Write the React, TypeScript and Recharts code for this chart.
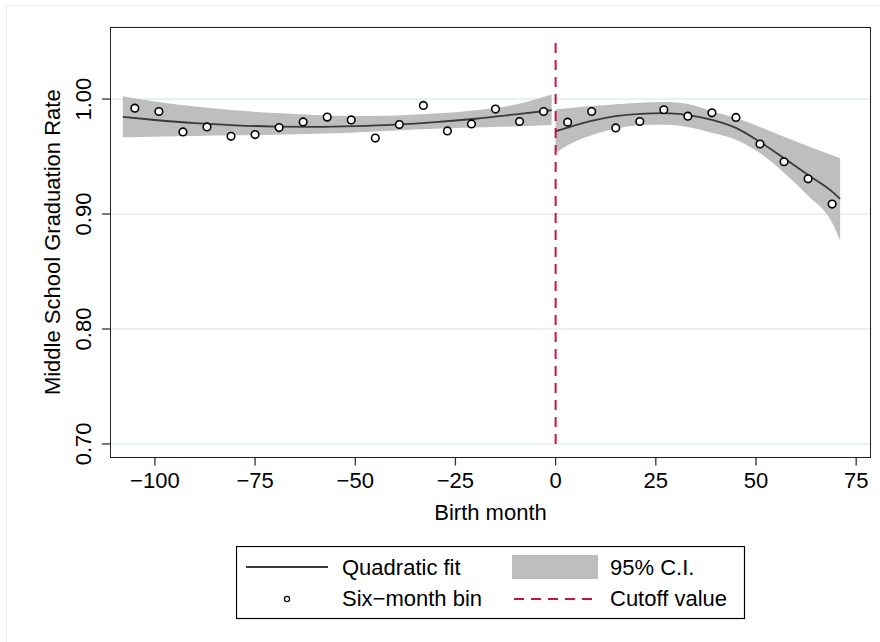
import { ComposedChart, Area, Line, Scatter, XAxis, YAxis, CartesianGrid, ReferenceLine } from "recharts";

// six-month bins (bin centre, mean graduation rate)
const binMonths = [
  -105, -99, -93, -87, -81, -75, -69, -63, -57, -51, -45, -39, -33, -27, -21, -15, -9, -3,
  3, 9, 15, 21, 27, 33, 39, 45, 51, 57, 63, 69,
];
const binRates = [
  0.9921, 0.9892, 0.9714, 0.9758, 0.9676, 0.9691, 0.9752, 0.9801, 0.9843, 0.9819, 0.9661, 0.9778,
  0.9945, 0.9723, 0.9784, 0.9913, 0.9805, 0.9892,
  0.9799, 0.9892, 0.9749, 0.9805, 0.9907, 0.9851, 0.988, 0.984, 0.9609, 0.9455, 0.9306, 0.9087,
];

// fit below the cutoff
const leftMonths = [-108, -100, -90, -80, -70, -60, -50, -40, -30, -20, -10, -1];
const leftFit = [0.9846, 0.9818, 0.979, 0.9772, 0.9761, 0.9758, 0.9764, 0.9777, 0.9799, 0.9829, 0.9867, 0.9903];
const leftLo = [0.9668, 0.9673, 0.9679, 0.9685, 0.969, 0.9698, 0.971, 0.9727, 0.9742, 0.9752, 0.9762, 0.9775];
const leftHi = [1.0025, 0.9978, 0.9935, 0.9902, 0.9878, 0.9861, 0.9853, 0.9858, 0.9874, 0.9903, 0.9952, 1.004];

// fit above the cutoff
const rightMonths = [0, 3, 9, 15, 21, 27, 33, 39, 45, 51, 57, 63, 69, 71];
const rightFit = [0.972, 0.9752, 0.981, 0.9851, 0.9872, 0.9877, 0.986, 0.982, 0.975, 0.9627, 0.9485, 0.934, 0.9195, 0.9131];
const rightLo = [0.953, 0.9598, 0.9685, 0.9744, 0.9773, 0.9776, 0.9758, 0.9708, 0.9647, 0.953, 0.936, 0.916, 0.8925, 0.877];
const rightHi = [0.991, 0.992, 0.9939, 0.9955, 0.9968, 0.9974, 0.9958, 0.9895, 0.9835, 0.9758, 0.9672, 0.959, 0.9512, 0.9487];

const cutoffMonth = 0;
const cutoffSpan = [0.7, 1.05];

const xTicks = [-100, -75, -50, -25, 0, 25, 50, 75];
const yTicks = [0.7, 0.8, 0.9, 1.0];

const FONT = "'Liberation Sans', Arial, Helvetica, sans-serif";
const BAND = "#bebebe";
const FIT = "#3a3a3a";
const CUT = "#c8133f";

const bins = binMonths.map((m, i) => ({ month: m, rate: binRates[i] }));
const leftData = leftMonths.map((m, i) => ({ month: m, fit: leftFit[i], ci: [leftLo[i], leftHi[i]] }));
const rightData = rightMonths.map((m, i) => ({ month: m, fit: rightFit[i], ci: [rightLo[i], rightHi[i]] }));

const fmtX = (v: number) => (v < 0 ? "\u2212" + Math.abs(v) : String(v));

const XTick = ({ x, y, payload }: any) => (
  <text x={x} y={y} dy="0.71em" textAnchor="middle" fontSize={22} fontFamily={FONT} fill="#000">
    {fmtX(payload.value)}
  </text>
);

const YTick = ({ x, y, payload }: any) => (
  <text x={x} y={y} transform={`rotate(-90, ${x}, ${y})`} textAnchor="middle" fontSize={22} fontFamily={FONT} fill="#000">
    {Number(payload.value).toFixed(2)}
  </text>
);

const XTitle = ({ viewBox }: any) => (
  <text x={viewBox.x + viewBox.width / 2} y={519.5} textAnchor="middle" fontSize={22} fontFamily={FONT} fill="#000">
    Birth month
  </text>
);

const YTitle = ({ viewBox }: any) => {
  const cy = viewBox.y + viewBox.height / 2;
  return (
    <text x={60} y={cy} transform={`rotate(-90, 60, ${cy})`} textAnchor="middle" fontSize={22} fontFamily={FONT} fill="#000">
      Middle School Graduation Rate
    </text>
  );
};

const Dot = (props: any) => <circle cx={props.cx} cy={props.cy} r={3.8} fill="#fff" stroke="#000" strokeWidth={1.6} />;

const LegendBox = () => (
  <svg width={510} height={74} style={{ position: "absolute", left: 236, top: 546 }}>
    <rect x={0.5} y={0.5} width={508} height={72} fill="#fff" stroke="#000" strokeWidth={1.2} />
    <line x1={10} x2={92} y1={21} y2={21} stroke={FIT} strokeWidth={1.8} />
    <text x={106} y={28.5} fontSize={22} fontFamily={FONT}>Quadratic fit</text>
    <rect x={276} y={9} width={86} height={24} fill={BAND} />
    <text x={374} y={28.5} fontSize={22} fontFamily={FONT}>95% C.I.</text>
    <circle cx={51} cy={53} r={2.6} fill="#fff" stroke="#000" strokeWidth={1.2} />
    <text x={106} y={60} fontSize={22} fontFamily={FONT}>Six{"\u2212"}month bin</text>
    <line x1={278} x2={362} y1={53} y2={53} stroke={CUT} strokeWidth={2} strokeDasharray="10 7" />
    <text x={374} y={60} fontSize={22} fontFamily={FONT}>Cutoff value</text>
  </svg>
);

export default function App() {
  return (
    <div style={{ position: "absolute", left: 0, top: 0, width: 880, height: 642, background: "#fff", overflow: "hidden" }}>
      <div
        style={{
          position: "absolute",
          left: 6,
          top: 5,
          width: 900,
          height: 700,
          border: "1.5px solid #e6ecef",
        }}
      />
      <div style={{ position: "absolute", left: 0, top: 0 }}>
        <ComposedChart width={880} height={642} margin={{ top: 27, right: 9, left: 10, bottom: 104.5 }}>
          <CartesianGrid horizontal vertical={false} stroke="#e6eef1" strokeWidth={1.6} />
          <XAxis
            dataKey="month"
            type="number"
            domain={[-111.2, 78.7]}
            ticks={xTicks}
            allowDataOverflow
            height={80}
            axisLine={false}
            tickSize={8}
            tickMargin={6.5}
            tickLine={{ stroke: "#333", strokeWidth: 1.3 }}
            tick={<XTick />}
            label={{ content: <XTitle /> }}
          />
          <YAxis
            type="number"
            domain={[0.6882, 1.0627]}
            ticks={yTicks}
            allowDataOverflow
            width={100}
            axisLine={false}
            tickSize={8}
            tickMargin={11}
            tickLine={{ stroke: "#333", strokeWidth: 1.3 }}
            tick={<YTick />}
            label={{ content: <YTitle /> }}
          />
          <Area data={leftData} dataKey="ci" type="monotone" fill={BAND} fillOpacity={1} stroke="none" isAnimationActive={false} />
          <Area data={rightData} dataKey="ci" type="monotone" fill={BAND} fillOpacity={1} stroke="none" isAnimationActive={false} />
          <Line data={leftData} dataKey="fit" type="monotone" stroke={FIT} strokeWidth={1.8} dot={false} isAnimationActive={false} />
          <Line data={rightData} dataKey="fit" type="monotone" stroke={FIT} strokeWidth={1.8} dot={false} isAnimationActive={false} />
          <Scatter data={bins} dataKey="rate" shape={<Dot />} isAnimationActive={false} />
          <ReferenceLine
            segment={[
              { x: cutoffMonth, y: cutoffSpan[0] },
              { x: cutoffMonth, y: cutoffSpan[1] },
            ]}
            stroke={CUT}
            strokeWidth={2}
            strokeDasharray="10 7"
          />
        </ComposedChart>
      </div>
      <div
        style={{
          position: "absolute",
          left: 110,
          top: 27,
          width: 761,
          height: 431,
          boxSizing: "border-box",
          border: "1.5px solid #222",
          pointerEvents: "none",
        }}
      />
      <LegendBox />
    </div>
  );
}
